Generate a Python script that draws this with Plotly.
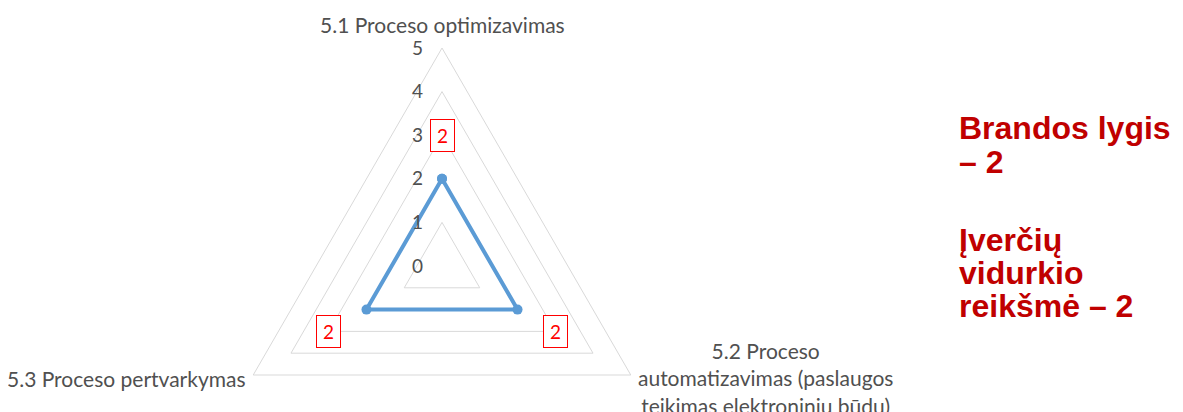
import numpy as np
import plotly.graph_objects as go

# chart data
categories = ["5.1 Proceso optimizavimas",
              "5.2 Proceso<br>automatizavimas (paslaugos<br>teikimas elektroninių būdu)",
              "5.3 Proceso pertvarkymas"]
values = [2, 2, 2]
radial_ticks = [0, 1, 2, 3, 4, 5]
side_lines = ["Brandos lygis", "– 2", "Įverčių", "vidurkio", "reikšmė – 2"]

# page body keeps its 8px margin, so the figure is 8px smaller than the window
W, H = 1175, 404
CX, CY, SCALE = 434, 258, 43.6   # radar centre (px from left/top) and px per unit
grey = "#D9D9D9"
label_col = "#505050"
font_lbl = "Lato"

# spoke angles: first category at the top, then clockwise
ang = np.deg2rad(90 - 360 * np.arange(len(categories)) / len(categories))
ux, uy = np.cos(ang), np.sin(ang)
closed = list(range(len(categories))) + [0]

fig = go.Figure()

# polygon grid, one triangle per tick level
for lvl in radial_ticks[1:]:
    fig.add_trace(go.Scatter(x=lvl * ux[closed], y=lvl * uy[closed], mode="lines",
                             line=dict(color=grey, width=1),
                             showlegend=False, hoverinfo="skip"))

# value line
v = np.array(values, dtype=float)
fig.add_trace(go.Scatter(x=(v * ux)[closed], y=(v * uy)[closed], mode="lines+markers",
                         line=dict(color="#5B9BD5", width=4),
                         marker=dict(size=10, color="#5B9BD5"),
                         showlegend=False, hoverinfo="skip"))

annotations = []

# data labels in red boxes, one unit outside the points
for val, x, y in zip(values, (v + 1) * ux, (v + 1) * uy):
    annotations.append(dict(x=x, y=y, xref="x", yref="y", text=str(val), showarrow=False,
                            font=dict(family=font_lbl, size=19, color="#FF0000"),
                            bgcolor="white", bordercolor="#FF0000", borderwidth=1,
                            borderpad=3, width=17, height=25))

# radial tick labels along the top spoke
for t in radial_ticks:
    annotations.append(dict(x=t * ux[0], y=t * uy[0], xref="x", yref="y", text=str(t),
                            showarrow=False, xanchor="right", xshift=-17, yshift=1,
                            font=dict(family=font_lbl, size=19, color=label_col)))

# category labels at the outer vertices
r_max = radial_ticks[-1]
cat_pos = [dict(xanchor="center", yanchor="bottom", yshift=9, align="center"),
           dict(xanchor="left", yanchor="middle", xshift=5, yshift=-3, align="center"),
           dict(xanchor="right", yanchor="middle", xshift=-5, yshift=-3, align="right")]
for name, x, y, pos in zip(categories, r_max * ux, r_max * uy, cat_pos):
    annotations.append(dict(x=x, y=y, xref="x", yref="y", text=name, showarrow=False,
                            font=dict(family=font_lbl, size=21, color=label_col), **pos))

# side note
side_y = [120, 154, 232, 265, 298]
for txt, yy in zip(side_lines, side_y):
    annotations.append(dict(x=949 / W, y=1 - yy / H, xref="paper", yref="paper",
                            text="<b>" + txt + "</b>", showarrow=False,
                            xanchor="left", yanchor="middle",
                            font=dict(family="Liberation Sans", size=32, color="#C00000")))

fig.update_layout(
    width=W, height=H,
    margin=dict(l=0, r=0, t=0, b=0),
    paper_bgcolor="white", plot_bgcolor="white",
    xaxis=dict(range=[-CX / SCALE, (W - CX) / SCALE], visible=False, fixedrange=True),
    yaxis=dict(range=[-(H - CY) / SCALE, CY / SCALE], visible=False, fixedrange=True),
    annotations=annotations,
)

fig.write_html("out.html")
